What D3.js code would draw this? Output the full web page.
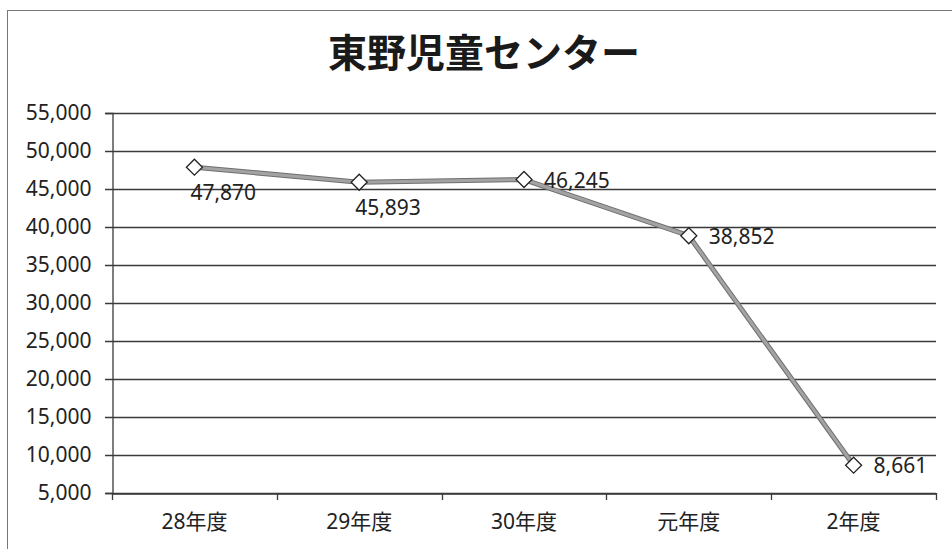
<!DOCTYPE html>
<html>
<head>
<meta charset="utf-8">
<script src="https://cdn.jsdelivr.net/npm/d3@7"></script>
<style>
  body { margin: 0; background: #fff; }
  text { font-family: "Noto Sans", "Noto Sans CJK JP", sans-serif; fill: #222; }
</style>
</head>
<body>
<svg id="chart" width="952" height="549"></svg>
<script>
// chart data
var title = "東野児童センター";
var categories = ["28年度", "29年度", "30年度", "元年度", "2年度"];
var values = [47870, 45893, 46245, 38852, 8661];
var yTicks = [5000, 10000, 15000, 20000, 25000, 30000, 35000, 40000, 45000, 50000, 55000];
// where each data label sits relative to its marker
var labelSide = ["below", "below", "right", "right", "right"];

var svg = d3.select("#chart");
var margin = {left: 112, right: 16, top: 113, bottom: 56};
var W = 952, H = 549;

// outer frame of the chart
svg.append("rect")
  .attr("x", 7.5).attr("y", 10.5)
  .attr("width", W + 10).attr("height", H + 10)
  .attr("fill", "none").attr("stroke", "#777").attr("stroke-width", 1);

var x = d3.scaleBand()
  .domain(categories)
  .range([margin.left, W - margin.right])
  .paddingInner(0).paddingOuter(0);

var y = d3.scaleLinear()
  .domain([5000, 55000])
  .range([H - margin.bottom, margin.top]);

var fmt = d3.format(",");

// title
svg.append("text")
  .attr("x", 484).attr("y", 67)
  .attr("text-anchor", "middle")
  .style("font-family", '"Noto Sans CJK JP", sans-serif')
  .style("font-size", "39px").style("font-weight", "bold")
  .style("fill", "#1a1a1a")
  .text(title);

// gridlines
svg.append("g")
  .selectAll("line").data(yTicks).join("line")
  .attr("x1", margin.left - 7).attr("x2", W - margin.right)
  .attr("y1", function(d){ return Math.round(y(d)) + 0.5; })
  .attr("y2", function(d){ return Math.round(y(d)) + 0.5; })
  .attr("stroke", "#3a3a3a").attr("stroke-width", 1.3);

// y axis
var yAxis = svg.append("g")
  .attr("transform", "translate(" + (margin.left + 0.5) + ",0)")
  .call(d3.axisLeft(y).tickValues(yTicks).tickFormat(fmt).tickSize(7).tickPadding(14));
yAxis.select(".domain").attr("stroke", "#3a3a3a").attr("stroke-width", 1.3);
yAxis.selectAll(".tick line").attr("stroke", "#3a3a3a");
yAxis.selectAll("text")
  .style("font-size", "21px").style("fill", "#222")
  .attr("font-family", null);

// x axis
var xAxis = svg.append("g")
  .attr("transform", "translate(0," + (Math.round(y(5000)) + 0.5) + ")")
  .call(d3.axisBottom(x).tickSize(0).tickPadding(21));
xAxis.select(".domain").attr("stroke", "#3a3a3a").attr("stroke-width", 1.3);
xAxis.selectAll("text")
  .style("font-size", "21px").style("fill", "#222")
  .style("font-family", '"Noto Sans", "Noto Sans CJK JP", sans-serif')
  .attr("font-family", null);

// category boundary ticks
var bounds = categories.map(function(c){ return x(c); }).concat([x.range()[1]]);
svg.append("g").selectAll("line").data(bounds).join("line")
  .attr("x1", function(d){ return Math.round(d) + 0.5; })
  .attr("x2", function(d){ return Math.round(d) + 0.5; })
  .attr("y1", y(5000)).attr("y2", y(5000) + 7)
  .attr("stroke", "#3a3a3a").attr("stroke-width", 1.3);

// line
var pts = values.map(function(v, i){
  return {v: v, c: categories[i], side: labelSide[i]};
});
var cx = function(d){ return x(d.c) + x.bandwidth() / 2; };
var line = d3.line().x(cx).y(function(d){ return y(d.v); });

svg.append("path").datum(pts)
  .attr("d", line)
  .attr("fill", "none")
  .attr("stroke", "#6f6f6f").attr("stroke-width", 5)
  .attr("stroke-linejoin", "round");
svg.append("path").datum(pts)
  .attr("d", line)
  .attr("fill", "none")
  .attr("stroke", "#a3a3a3").attr("stroke-width", 3)
  .attr("stroke-linejoin", "round");

// diamond markers
svg.append("g").selectAll("path").data(pts).join("path")
  .attr("transform", function(d){ return "translate(" + cx(d) + "," + y(d.v) + ")"; })
  .attr("d", "M0,-8L8,0L0,8L-8,0Z")
  .attr("fill", "#fff").attr("stroke", "#222").attr("stroke-width", 1.3);

// data labels
svg.append("g").selectAll("text").data(pts).join("text")
  .attr("x", function(d){ return d.side == "below" ? cx(d) - 4 : cx(d) + 20; })
  .attr("y", function(d){ return d.side == "below" ? y(d.v) + 33 : y(d.v) + 8; })
  .attr("text-anchor", "start")
  .style("font-size", "21px").style("fill", "#222")
  .text(function(d){ return fmt(d.v); });
</script>
</body>
</html>
